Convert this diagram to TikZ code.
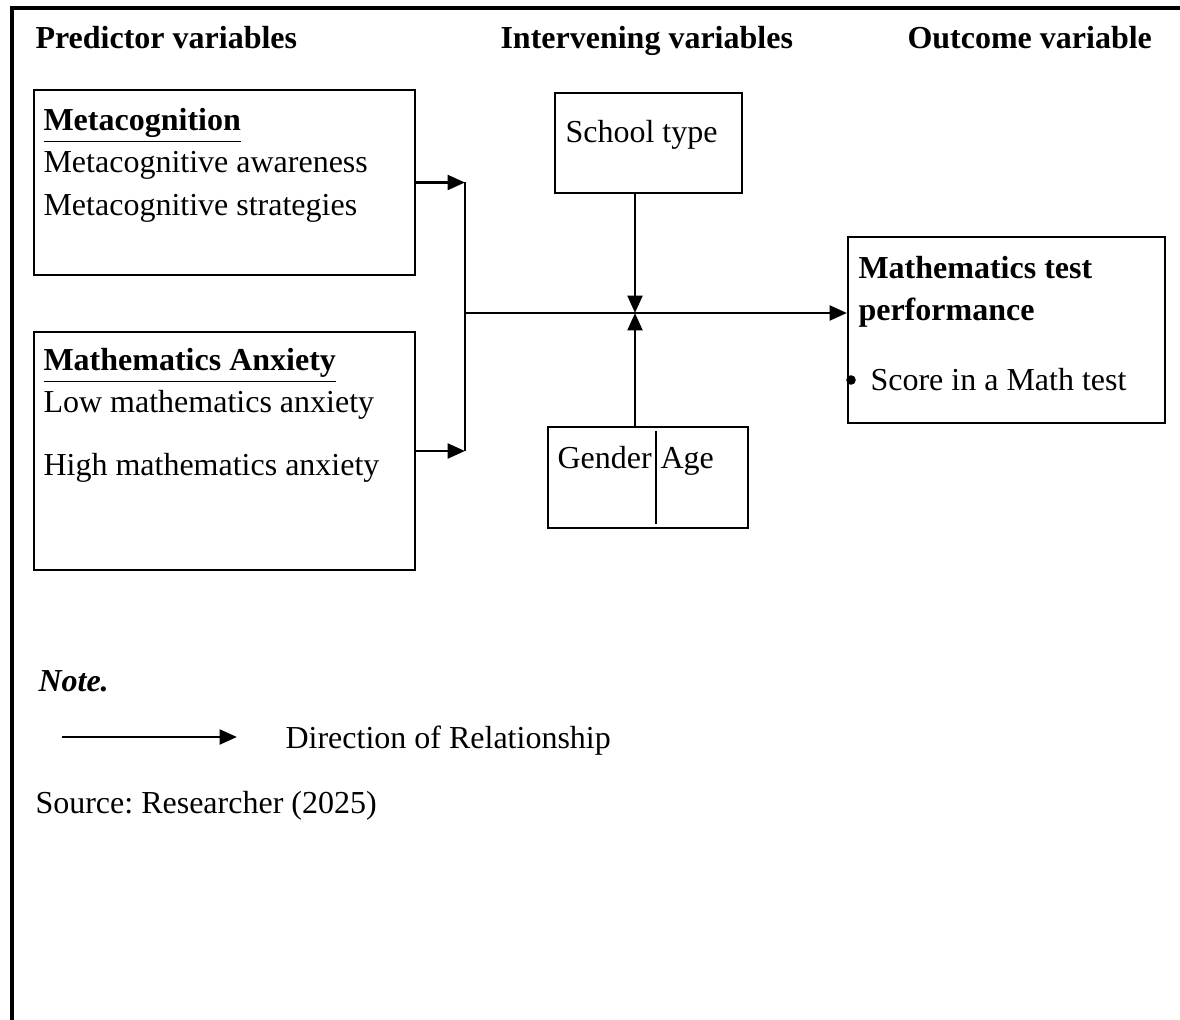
\documentclass[tikz,border=0pt]{standalone}
\usepackage{fontspec}
\setmainfont{Liberation Serif}
\usetikzlibrary{positioning, fit, arrows.meta}
\frenchspacing

\begin{document}
\begin{tikzpicture}[x=0.375pt, y=-0.375pt,
    box/.style={draw=black, line width=0.75pt, inner sep=0pt},
    txt/.style={anchor=base west, inner sep=0pt, font=\fontsize{12}{14}\selectfont},
    arr/.style={line width=1.1pt, -{Triangle[length=6.5pt, width=5.5pt]}},
    frame/.style={line width=1.3pt}]
  \useasboundingbox (0,0) rectangle (1180,1020);

  % outer frame (top and left only)
  \draw[frame] (1180,8) -- (12,8) -- (12,1020);

  % column headings
  \node[txt] (hpred) at (35,49) {\textbf{Predictor variables}};
  \node[txt] (hint) at (500,49) {\textbf{Intervening variables}};
  \node[txt] (hout) at (907,49) {\textbf{Outcome variable}};

  % predictor boxes
  \node[box, fit={(34,90) (415,275)}] (meta) {};
  \node[txt] (metat) at (43,131) {\textbf{\underline{Metacognition}}};
  \node[txt] (meta1) at (43,173) {Metacognitive awareness};
  \node[txt] (meta2) at (43,216) {Metacognitive strategies};

  \node[box, fit={(34,332) (415,570)}] (anx) {};
  \node[txt] (anxt) at (43,371) {\textbf{\underline{Mathematics Anxiety}}};
  \node[txt] (anx1) at (43,413) {Low mathematics anxiety};
  \node[txt] (anx2) at (43,476) {High mathematics anxiety};

  % intervening boxes
  \node[box, fit={(555,93) (742,193)}] (school) {};
  \node[txt] (schoolt) at (565,143) {School type};

  \node[box, fit={(548,427) (748,528)}] (gen) {};
  \draw[line width=0.75pt] (656,431) -- (656,524);
  \node[txt] (gent) at (557,469) {Gender};
  \node[txt] (aget) at (660,469) {Age};

  % outcome box
  \node[box, fit={(848,237) (1165,423)}] (out) {};
  \node[txt] (outt1) at (858,279) {\textbf{Mathematics test}};
  \node[txt] (outt2) at (858,321) {\textbf{performance}};
  \node[circle, fill=black, inner sep=0pt, minimum size=3.6pt] (bul) at (851,380) {};
  \node[txt] (outs) at (870,391) {Score in a Math test};

  % connectors
  \coordinate (j1) at (465,182.5);
  \coordinate (j2) at (465,451);
  \coordinate (jm) at (465,313);
  \coordinate (mid) at (635,313);
  \draw[arr] (meta.east) -- (j1);
  \draw[arr] (anx.east) -- (j2);
  \draw[line width=1.1pt] (j1) -- (j2);
  \draw[arr] (jm) -- (jm -| out.west);
  \draw[arr] (mid |- school.south) -- (mid);
  \draw[arr] (mid |- gen.north) -- (mid);

  % note
  \node[txt] (note) at (38,691) {\textbf{\textit{Note.}}};
  \coordinate (l1) at (62,737);
  \coordinate (l2) at (237,737);
  \draw[arr] (l1) -- (l2);
  \node[txt] (legend) at (285,748) {Direction of Relationship};
  \node[txt] (source) at (35,813) {Source: Researcher (2025)};
\end{tikzpicture}
\end{document}
